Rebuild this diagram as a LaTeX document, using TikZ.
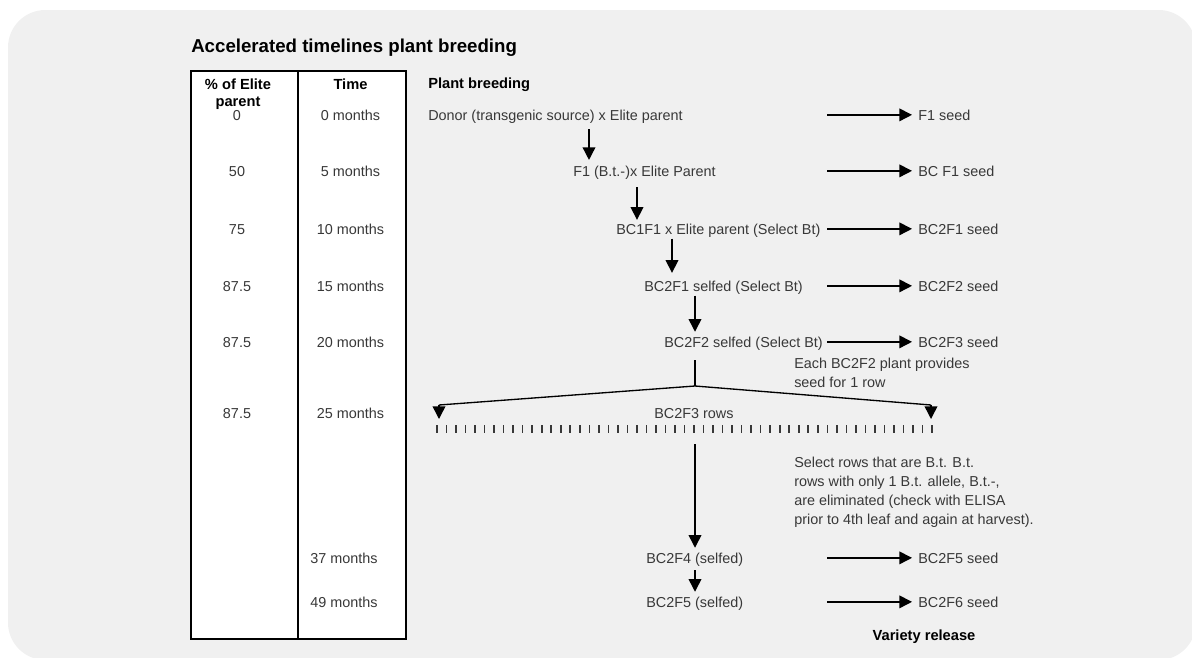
\documentclass[tikz,border=0pt]{standalone}
\usepackage{fontspec}
\setmainfont{Liberation Sans}
\usetikzlibrary{arrows.meta}
\definecolor{panel}{HTML}{F0F0F0}
\definecolor{ink}{HTML}{383838}
\tikzset{
	txt/.style={inner sep=0pt, text=ink, font=\fontsize{10.8}{14.25}\selectfont},
	hdr/.style={inner sep=0pt, text=black, font=\bfseries\fontsize{11}{12.75}\selectfont},
	arr/.style={-{Triangle[width=9.5pt,length=9.5pt]}, line width=1.1pt},
	tick/.style={line width=1.2pt, draw=ink},
}
\begin{document}
\begin{tikzpicture}[x=0.75pt,y=-0.75pt]
		\useasboundingbox (0,0) rectangle (1192,657);
		\fill[panel, rounded corners=28pt] (8,10) rectangle (1196,660);
		\node[anchor=base west, inner sep=0pt, font=\bfseries\fontsize{14}{16}\selectfont] (title) at (191,52) {Accelerated timelines plant breeding};
		\filldraw[fill=white, draw=black, line width=1pt] (191,71) rectangle (406,639);
		\draw[line width=1pt] (298,71) -- (298,639);
		\node[hdr, anchor=north, align=center] (pct) at (238,78.5) {\% of Elite\\parent};
		\node[hdr, anchor=base] (time) at (350.5,89) {Time};
		\node[hdr, anchor=base west] (pb) at (428,88) {Plant breeding};
		\node[txt, anchor=base] (p0) at (237,120) {0};
		\node[txt, anchor=base] (p1) at (237,176) {50};
		\node[txt, anchor=base] (p2) at (237,234) {75};
		\node[txt, anchor=base] (p3) at (237,291) {87.5};
		\node[txt, anchor=base] (p4) at (237,347) {87.5};
		\node[txt, anchor=base] (p5) at (237,418) {87.5};
		\node[txt, anchor=base] (m0) at (350.5,120) {0 months};
		\node[txt, anchor=base] (m1) at (350.5,176) {5 months};
		\node[txt, anchor=base] (m2) at (350.5,234) {10 months};
		\node[txt, anchor=base] (m3) at (350.5,291) {15 months};
		\node[txt, anchor=base] (m4) at (350.5,347) {20 months};
		\node[txt, anchor=base] (m5) at (350.5,418) {25 months};
		\node[txt, anchor=base west] (m6) at (310,563) {37 months};
		\node[txt, anchor=base west] (m7) at (310,607) {49 months};
		\node[txt, anchor=base west] (donor) at (428,120) {Donor (transgenic source) x Elite parent};
		\node[txt, anchor=base west] (f1) at (573,176) {F1 (B.t.-)x Elite Parent};
		\node[txt, anchor=base west] (bc1f1) at (616,234) {BC1F1 x Elite parent (Select Bt)};
		\node[txt, anchor=base west] (bc2f1) at (644,291) {BC2F1 selfed (Select Bt)};
		\node[txt, anchor=base west] (bc2f2) at (664,347) {BC2F2 selfed (Select Bt)};
		\node[txt, anchor=base west] (rows) at (654,418) {BC2F3 rows};
		\node[txt, anchor=base west] (bc2f4) at (646,563) {BC2F4 (selfed)};
		\node[txt, anchor=base west] (bc2f5) at (646,607) {BC2F5 (selfed)};
		\node[txt, anchor=base west] (s0) at (918,120) {F1 seed};
		\node[txt, anchor=base west] (s1) at (918,176) {BC F1 seed};
		\node[txt, anchor=base west] (s2) at (918,234) {BC2F1 seed};
		\node[txt, anchor=base west] (s3) at (918,291) {BC2F2 seed};
		\node[txt, anchor=base west] (s4) at (918,347) {BC2F3 seed};
		\node[txt, anchor=base west] (s6) at (918,563) {BC2F5 seed};
		\node[txt, anchor=base west] (s7) at (918,607) {BC2F6 seed};
		\node[txt, anchor=north west, align=left] (each) at (794,357.5) {Each BC2F2 plant provides\\seed for 1 row};
		\node[txt, anchor=north west, align=left] (sel) at (794,456.5) {Select rows that are B.t. B.t.\\rows with only 1 B.t. allele, B.t.-,\\are eliminated (check with ELISA\\prior to 4th leaf and again at harvest).};
		\node[hdr, anchor=base] (rel) at (924,640) {Variety release};
		% arrow columns
		\coordinate (st) at (827,0);
		\coordinate (v1) at (589,0);
		\coordinate (v2) at (637,0);
		\coordinate (v3) at (672,0);
		\coordinate (v4) at (695,0);
		\foreach \s in {s0,s1,s2,s3,s4,s6,s7}
			\draw[arr, shorten >=4.5pt] (\s.west -| st) -- (\s.west);
		\draw[arr, shorten <=4.5pt, shorten >=4pt] (donor.south -| v1) -- (f1.north -| v1);
		\draw[arr, shorten <=6pt, shorten >=2.6pt] (f1.south -| v2) -- (bc1f1.north -| v2);
		\draw[arr, shorten <=1pt, shorten >=5.6pt] (bc1f1.south -| v3) -- (bc2f1.north -| v3);
		\draw[arr, shorten <=1pt, shorten >=3.4pt] (bc2f1.south -| v4) -- (bc2f2.north -| v4);
		% fan out to the rows
		\coordinate (fan) at (695,386);
		\coordinate (fl) at (439,405);
		\coordinate (fr) at (931,405);
		\draw[line width=1.1pt, shorten <=7.5pt] (bc2f2.south -| fan) -- (fan);
		\draw[line width=1pt] (fl) -- (fan) -- (fr);
		\draw[arr] (fl) -- ++(0,14);
		\draw[arr] (fr) -- ++(0,14);
		\foreach \k in {0,...,52}
			\draw[tick] ({437+\k*9.52},425) -- ++(0,8);
		\coordinate (rb) at (695,444);
		\draw[arr, shorten >=3.4pt] (rb) -- (bc2f4.north -| rb);
		\draw[arr, shorten <=3pt, shorten >=3.4pt] (bc2f4.south -| v4) -- (bc2f5.north -| v4);
	    \end{tikzpicture}
\end{document}
